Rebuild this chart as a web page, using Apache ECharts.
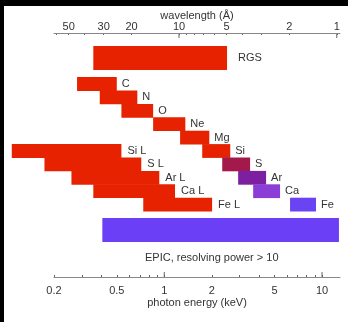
<!DOCTYPE html>
<html><head><meta charset="utf-8">
<script src="https://cdn.jsdelivr.net/npm/echarts@6/dist/echarts.min.js"></script>
<style>html,body{margin:0;padding:0;background:#fff}#c{width:348px;height:322px}</style>
</head><body><div id="c"></div>
<script>
// ---- axis ticks / labels ----
const energyTicks = [0.2,0.3,0.4,0.5,0.6,0.7,0.8,0.9,1,2,3,4,5,6,7,8,9,10];
const energyLabels = [0.2,0.5,1,2,5,10];
const energyMajor = [1,10];
const waveTicks = [60,50,40,30,20,10,9,8,7,6,5,4,3,2,1];
const waveLabels = [50,30,20,10,5,2,1];
const waveMajor = [10,1];
const HC = 12.398; // keV * Angstrom
const energyMin = 0.2, energyMax = 13;

// ---- K-shell lines (keV) ----
const kNames = ['C','N','O','Ne','Mg','Si','S','Ar','Ca','Fe'];
const kLow  = [0.28, 0.39, 0.535, 0.85, 1.26, 1.74, 2.33, 2.94, 3.66, 6.27];
const kHigh = [0.50, 0.675, 0.85, 1.36, 1.93, 2.62, 3.50, 4.42, 5.42, 9.16];
const kRow  = [0,1,2,3,4,5,6,7,8,9];
const kColor = ['#e62200','#e62200','#e62200','#e62200','#e62200','#e62200','#a3194c','#7c1fa0','#8a3ed6','#6a44f2'];

// ---- L-shell lines (keV) ----
const lNames = ['Si L','S L','Ar L','Ca L','Fe L'];
const lLow  = [0.108, 0.174, 0.258, 0.355, 0.736];
const lHigh = [0.535, 0.715, 0.93, 1.17, 2.01];
const lRow  = [5,6,7,8,9];

// ---- instruments (keV) ----
const instNames = ['RGS','EPIC'];
const instLow  = [0.355, 0.405];
const instHigh = [2.5, 12.8];
const instRow  = [-1.94, 10.9];
const instColor = ['#e62200','#6a3ff5'];
const epicNote = 'EPIC, resolving power > 10';

const L = Math.log10;
const FONT = '"Liberation Sans", Arial, Helvetica, sans-serif';
const RED = '#e62200';
const Y_MIN = -3.806, Y_MAX = 14.403;

const items = [];
kNames.forEach((n,i)=>items.push({name:n, lo:kLow[i], hi:kHigh[i], row:kRow[i], h:1.03, color:kColor[i], gap:5}));
lNames.forEach((n,i)=>items.push({name:n, lo:lLow[i], hi:lHigh[i], row:lRow[i], h:1.03, color:RED, gap:6}));
items.push({name:instNames[0], lo:instLow[0], hi:instHigh[0], row:instRow[0], h:1.79, color:instColor[0], gap:11});
items.push({name:'', lo:instLow[1], hi:instHigh[1], row:instRow[1], h:1.79, color:instColor[1], gap:0, note:epicNote});

function renderItem(params, api){
  const it = items[params.dataIndex];
  const p0 = api.coord([api.value(0), api.value(2)]);
  const p1 = api.coord([api.value(1), api.value(2)]);
  const hh = api.size([0, api.value(3)])[1];
  const children = [{
    type:'rect',
    shape:{x:p0[0], y:p0[1]-hh/2, width:p1[0]-p0[0], height:hh},
    style:{fill:it.color}
  }];
  if (it.name) children.push({
    type:'text',
    style:{text:it.name, x:p1[0]+it.gap, y:p0[1], verticalAlign:'middle', align:'left',
      fill:'#333', font:'11px '+FONT}
  });
  if (it.note) {
    const pc = api.coord([L(2), api.value(2)]);
    children.push({type:'text', style:{text:it.note, x:pc[0], y:p0[1]+hh/2+16, align:'center', verticalAlign:'middle', fill:'#333', font:'11px '+FONT}});
  }
  return {type:'group', children};
}

// longer ticks at decades: [logE, side] side 0 = bottom axis, 1 = top axis
const majorData = energyMajor.map(e=>[L(e), 0]).concat(waveMajor.map(w=>[L(HC/w), 1]));
function renderMajor(params, api){
  const side = api.value(1);
  const yv = side ? Y_MIN : Y_MAX;
  const p = api.coord([api.value(0), yv]);
  const d = side ? 5 : -5;
  const children = [{type:'line', shape:{x1:p[0], y1:p[1], x2:p[0], y2:p[1]+d}, style:{stroke:'#666', lineWidth:1}}];
  if (params.dataIndex === majorData.length - 1) {
    // top frame line (same as top axis line)
    const a = api.coord([L(energyMin), Y_MIN]);
    const b = api.coord([L(energyMax), Y_MIN]);
    children.push({type:'line', shape:{x1:a[0], y1:Math.round(a[1])+0.5, x2:b[0], y2:Math.round(b[1])+0.5}, style:{stroke:'#888', lineWidth:1}});
  }
  return {type:'group', children};
}

function fmtNum(v, arr){
  const f = arr.find(e=>Math.abs(L(e)-v)<1e-6);
  return f===undefined ? '' : String(f);
}

const axisBase = {type:'value', min:L(energyMin), max:L(energyMax), splitLine:{show:false}, nameMoveOverlap:false};
const option = {
  animation:false,
  backgroundColor:'#fff',
  grid:{left:54, right:8, top:33, bottom:45, outerBoundsMode:'none'},
  xAxis:[
    Object.assign({}, axisBase, {
      position:'bottom',
      name:'photon energy (keV)', nameLocation:'middle', nameGap:20,
      nameTextStyle:{color:'#333', fontSize:11, fontFamily:FONT},
      axisLine:{show:true, onZero:false, lineStyle:{color:'#888', width:1}},
      axisTick:{inside:true, length:2, lineStyle:{color:'#666'}, customValues:energyTicks.map(L)},
      axisLabel:{customValues:energyLabels.map(L), formatter:v=>fmtNum(v,energyLabels), margin:8, color:'#333', fontSize:11, fontFamily:FONT}
    }),
    Object.assign({}, axisBase, {
      position:'top',
      name:'wavelength (Å)', nameLocation:'middle', nameGap:12,
      nameTextStyle:{color:'#333', fontSize:11, fontFamily:FONT},
      axisLine:{show:true, onZero:false, lineStyle:{color:'#888', width:1}},
      axisTick:{inside:true, length:2, lineStyle:{color:'#666'}, customValues:waveTicks.map(w=>L(HC/w))},
      axisLabel:{customValues:waveLabels.map(w=>L(HC/w)), formatter:v=>{
        const w = waveLabels.find(x=>Math.abs(L(HC/x)-v)<1e-6); return w===undefined?'':String(w);},
        margin:1, color:'#333', fontSize:11, fontFamily:FONT}
    })
  ],
  yAxis:{type:'value', inverse:true, min:Y_MIN, max:Y_MAX, show:false},
  series:[{
    type:'custom', renderItem, clip:false,
    encode:{x:[0,1], y:2},
    data: items.map(it=>[L(it.lo), L(it.hi), it.row, it.h])
  },{
    type:'custom', renderItem:renderMajor, clip:false, silent:true,
    encode:{x:0},
    data: majorData
  }],
  graphic:[
    {type:'rect', left:0, top:0, shape:{width:4, height:322}, style:{fill:'#000'}},
    {type:'rect', left:0, top:0, shape:{width:348, height:6}, style:{fill:'#000'}}
  ]
};
const chart = echarts.init(document.getElementById('c'), null, {renderer:'canvas'});
chart.setOption(option);
</script></body></html>
